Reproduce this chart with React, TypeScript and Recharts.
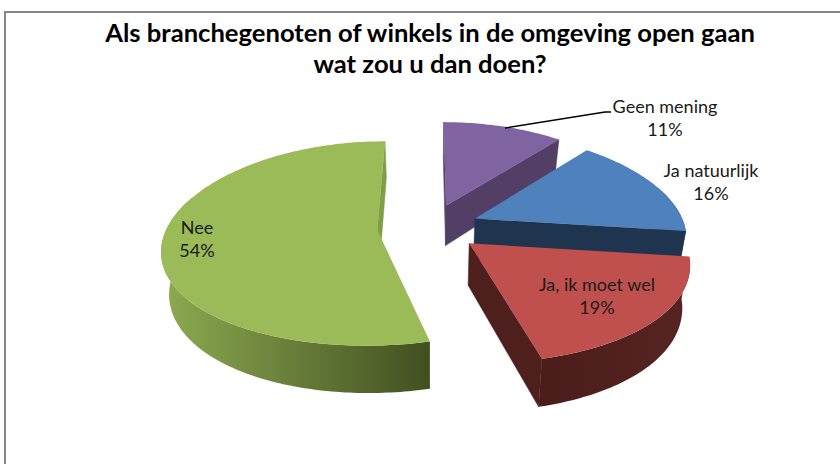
import React from 'react';
import { PieChart, Pie, Cell } from 'recharts';

// painted back to front, so the order is not the legend order of the original
const NAMES = ['Geen mening', 'Ja natuurlijk', 'Ja, ik moet wel', 'Nee'];
const VALUES = [11, 16, 19, 54];
const TITLE_LINES = ['Als branchegenoten of winkels in de omgeving open gaan', 'wat zou u dan doen?'];

const TOP_COLORS = ['#8064A2', '#4F81BD', '#C0504D', '#9BBB59'];
const EDGE_COLORS = ['#533F66', '#1F344F', '#4F1F1D', '#7F9E46'];
const WALL_LEFT = ['#533F66', '#1F344F', '#4C1C1A', '#8DAB51'];
const WALL_RIGHT = ['#533F66', '#1F344F', '#562523', '#414F20'];
const EXPLODE = [51, 51, 53, 55];
const LABEL_X = [665, 711, 597, 197];
const LABEL_Y = [106, 170, 284, 227];

const data = NAMES.map((name, i) => ({ name, value: VALUES[i] }));

const RADIAN = Math.PI / 180;
const WIDTH = 840;
const HEIGHT = 464;
const CX = 430;
const CY = 227;
const RADIUS = 219;
const X_SCALE = 0.96;
const TILT = 0.455; // vertical squash of the disc
const PERSPECTIVE_X = 0.17;
const PERSPECTIVE_Y = 0.13;
const DEPTH = 41;
const BOTTOM_SHRINK = 0.97;

// world position on the disc -> screen, bottom = lower rim of the slice
const project = (wx: number, wy: number, bottom = false) => {
  const sx = 1 / (1 + (PERSPECTIVE_X * wy) / RADIUS);
  const sy = 1 / (1 + (PERSPECTIVE_Y * wy) / RADIUS);
  const x = CX + wx * X_SCALE * sx;
  const y = CY - wy * TILT * sy;
  if (!bottom) return { x, y };
  return { x: CX + (x - CX) * BOTTOM_SHRINK, y: y + DEPTH * sy };
};

const toPath = (pts: { x: number; y: number }[]) =>
  pts.map((p, i) => `${i ? 'L' : 'M'}${p.x.toFixed(1)} ${p.y.toFixed(1)}`).join(' ') + ' Z';

const Slice3D = (props: any) => {
  const idx = NAMES.indexOf(props.name);
  const a1 = 90 - props.startAngle;
  const a2 = 90 - props.endAngle;
  const mid = ((a1 + a2) / 2) * RADIAN;
  const ox = EXPLODE[idx] * Math.sin(mid);
  const oy = EXPLODE[idx] * Math.cos(mid);
  const rim = (deg: number, bottom = false) =>
    project(ox + RADIUS * Math.sin(deg * RADIAN), oy + RADIUS * Math.cos(deg * RADIAN), bottom);

  const arc: number[] = [];
  for (let a = a1; a < a2; a += 1) arc.push(a);
  arc.push(a2);

  const tip = project(ox, oy);
  const tipLow = project(ox, oy, true);
  const inner = rim((a1 + a2) / 2);

  // radial wall shows only if the top face lies above its edge on screen
  const radialWall = (deg: number) => {
    const c = rim(deg);
    const ex = c.x - tip.x;
    const ey = c.y - tip.y;
    const side = ex * (inner.y - tip.y) - ey * (inner.x - tip.x);
    if (side * ex >= 0) return null;
    return <path d={toPath([tip, c, rim(deg, true), tipLow])} fill={EDGE_COLORS[idx]} stroke={EDGE_COLORS[idx]} strokeWidth={0.5} />;
  };

  const front = arc.filter((a) => a > 70 && a < 290);
  const gradId = `wall-${idx}`;

  return (
    <g>
      <defs>
        <linearGradient id={gradId} x1="0" y1="0" x2="1" y2="0">
          <stop offset="0%" stopColor={WALL_LEFT[idx]} />
          <stop offset="100%" stopColor={WALL_RIGHT[idx]} />
        </linearGradient>
      </defs>
      {radialWall(a1)}
      {radialWall(a2)}
      {front.length > 1 && (
        <path
          d={toPath([...front.map((a) => rim(a)), ...[...front].reverse().map((a) => rim(a, true))])}
          fill={`url(#${gradId})`}
        />
      )}
      <path d={toPath([tip, ...arc.map((a) => rim(a))])} fill={props.fill} />
    </g>
  );
};

const renderLabel = (props: any) => {
  const idx = NAMES.indexOf(props.name);
  return (
    <g key={props.name}>
      {idx === 0 && <polyline points="505,128 605,112 611,112" fill="none" stroke="#000" strokeWidth={1.5} />}
      <text x={LABEL_X[idx]} y={LABEL_Y[idx]} textAnchor="middle" dominantBaseline="central" fontFamily="Lato" fontSize={18} fill="#1a1a1a">
        <tspan x={LABEL_X[idx]}>{props.name}</tspan>
        <tspan x={LABEL_X[idx]} dy={23}>{`${Math.round(props.percent * 100)}%`}</tspan>
      </text>
    </g>
  );
};

export default function App() {
  return (
    <div style={{ position: 'absolute', left: 0, top: 0, width: WIDTH, height: HEIGHT, background: '#fff', overflow: 'hidden' }}>
      <div style={{ position: 'absolute', left: 4, top: 11, width: WIDTH, height: HEIGHT, borderLeft: '2px solid #868686', borderTop: '2px solid #868686' }} />
      <PieChart width={WIDTH} height={HEIGHT} margin={{ top: 0, right: 0, bottom: 0, left: 0 }} style={{ position: 'absolute', left: 0, top: 0 }}>
        <text x={CX} y={42} textAnchor="middle" fontFamily="Lato" fontWeight={700} fontSize={25.6} fill="#000">
          {TITLE_LINES[0]}
        </text>
        <text x={CX} y={73} textAnchor="middle" fontFamily="Lato" fontWeight={700} fontSize={25.6} fill="#000">
          {TITLE_LINES[1]}
        </text>
        <Pie
          data={data}
          dataKey="value"
          nameKey="name"
          cx={CX}
          cy={CY}
          outerRadius={RADIUS}
          startAngle={90}
          endAngle={-270}
          stroke="none"
          shape={Slice3D}
          label={renderLabel}
          labelLine={false}
          isAnimationActive={false}
        >
          {data.map((entry, i) => (
            <Cell key={entry.name} fill={TOP_COLORS[i]} />
          ))}
        </Pie>
      </PieChart>
    </div>
  );
}
